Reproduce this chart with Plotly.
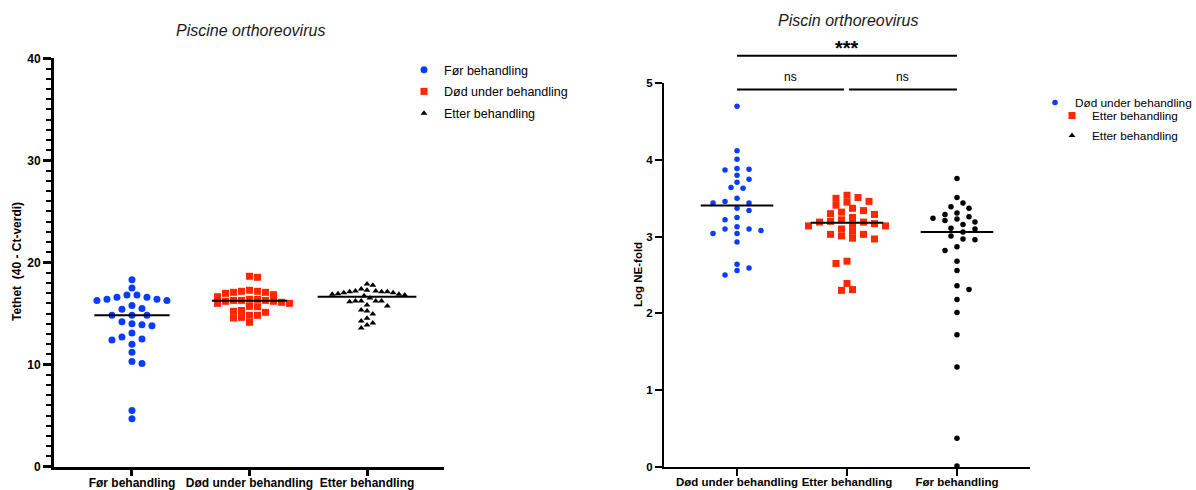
import numpy as np
import plotly.graph_objects as go

W, H = 1196, 490
FONT = "Liberation Sans, Arial, sans-serif"
BLUE = "#0a3cff"
RED = "#ff2600"
BLACK = "#000000"

# ---- Left panel: Tethet (40 - Ct-verdi) ----
left_categories = ["Før behandling", "Død under behandling", "Etter behandling"]
left_for = [18.32, 17.50, 16.82, 16.82, 16.39, 16.29, 16.29, 16.59, 16.59, 16.39,
            15.80, 15.50, 15.41, 14.83, 14.83, 14.83, 14.20, 14.00, 13.90, 13.80,
            13.10, 12.70, 12.50, 12.40, 12.00, 11.20, 10.30, 10.10, 5.50, 4.70]
left_dod = [18.65, 18.55, 17.18, 17.18, 17.08, 17.08, 16.40, 15.70, 16.85, 16.20,
            15.12, 17.28, 16.29, 16.29, 16.65, 16.00, 16.98, 16.20, 16.29, 14.83,
            16.10, 15.22, 14.14, 16.39, 15.67, 14.83, 16.00, 15.30, 14.56, 14.63]
left_etter = [17.14, 17.14, 16.82, 16.88, 17.40, 17.04, 17.04, 17.77, 16.88, 16.94,
              17.27, 17.89, 17.20, 17.20, 17.14, 16.75, 16.16, 16.22, 16.22, 16.22,
              16.52, 16.22, 15.74, 15.84, 15.35, 15.25, 14.96, 14.54, 14.27, 14.07,
              13.88, 13.58]

# ---- Right panel: Log NE-fold ----
right_categories = ["Død under behandling", "Etter behandling", "Før behandling"]
right_dod = [4.70, 4.12, 4.01, 3.88, 3.89, 3.87, 3.80, 3.75, 3.71, 3.63,
             3.64, 3.50, 3.46, 3.44, 3.44, 3.37, 3.34, 3.25, 3.22, 3.10,
             3.10, 3.13, 3.08, 3.04, 3.04, 2.93, 2.59, 2.64, 2.56, 2.50]
right_etter = [3.17, 3.46, 3.37, 3.19, 3.10, 3.01, 3.51, 3.41, 3.32, 3.19,
               3.07, 2.97, 3.50, 3.29, 3.20, 2.98, 3.54, 3.45, 3.34, 3.25,
               3.14, 3.03, 3.30, 3.22, 3.14, 3.03, 3.16, 2.65, 2.68, 2.39,
               2.31, 2.30]
right_for = [3.76, 3.51, 3.44, 3.37, 3.39, 3.31, 3.29, 3.23, 3.24, 3.19,
             3.26, 3.21, 3.16, 3.10, 3.11, 3.06, 3.01, 2.97, 2.96, 2.82,
             2.87, 2.68, 2.56, 2.36, 2.31, 2.18, 2.01, 1.72, 1.30, 0.37, 0.01]

# Significance comparisons on the right panel: (from, to, level, label)
sig_pairs = [(0, 2, 5.36, "***"), (0, 0.973, 4.92, "ns"), (1.018, 2, 4.92, "ns")]

# Plot-area geometry (pixels)
L_X0, L_X1, L_YB, L_YT = 53.8, 444.0, 466.7, 58.3
R_X0, R_X1, R_YB, R_YT = 664.0, 1030.0, 466.7, 83.3
L_XR, L_YR = [-0.665, 2.655], [0, 40]
R_XR, R_YR = [-0.664, 2.664], [0, 5]

l_xpx = (L_X1 - L_X0) / (L_XR[1] - L_XR[0])
l_ypx = (L_YB - L_YT) / (L_YR[1] - L_YR[0])
r_xpx = (R_X1 - R_X0) / (R_XR[1] - R_XR[0])
r_ypx = (R_YB - R_YT) / (R_YR[1] - R_YR[0])


def r_paper_x(v):
    return (R_X0 + (v - R_XR[0]) * r_xpx) / W


def r_paper_y(v):
    return 1 - (R_YB - (v - R_YR[0]) * r_ypx) / H


def swarm(values, ypx, xpx, sx, sy):
    """Beeswarm offsets (in category units) on a half-step lattice."""
    vals = np.asarray(values, dtype=float)
    order = np.argsort(-vals, kind="stable")
    placed = []
    offs = np.zeros(len(vals))
    flip = 1
    for i in order:
        yp = vals[i] * ypx
        chosen = None
        for step in range(0, 60):
            cands = [0] if step == 0 else [flip * step, -flip * step]
            for c in cands:
                xp = c * sx / 2.0
                if all(((xp - px) / sx) ** 2 + ((yp - py) / sy) ** 2 >= 0.999
                       for px, py in placed):
                    chosen = xp
                    break
            if chosen is not None:
                break
        if chosen != 0:
            flip = -flip
        placed.append((chosen, yp))
        offs[i] = chosen
    return offs / xpx


fig = go.Figure()


def add_group(values, pos, xpx, ypx, sx, sy, color, symbol, size, name,
              xa, ya, legend, showlegend=True, half=0.32):
    offs = swarm(values, ypx, xpx, sx, sy)
    fig.add_trace(go.Scatter(
        x=pos + offs, y=values, mode="markers", name=name, legendgroup=name,
        marker=dict(color=color, symbol=symbol, size=size, line=dict(width=0)),
        xaxis=xa, yaxis=ya, cliponaxis=False, showlegend=showlegend,
        legend=legend, hoverinfo="y"))
    med = float(np.median(values))
    fig.add_trace(go.Scatter(
        x=[pos - half, pos + half], y=[med, med], mode="lines",
        line=dict(color=BLACK, width=2), xaxis=xa, yaxis=ya,
        showlegend=False, hoverinfo="skip"))


# Left panel groups
add_group(left_for, 0, l_xpx, l_ypx, 10, 7.5, BLUE, "circle", 7,
          left_categories[0], "x", "y", "legend")
add_group(left_dod, 1, l_xpx, l_ypx, 8, 6.5, RED, "square", 7,
          left_categories[1], "x", "y", "legend")
add_group(left_etter, 2, l_xpx, l_ypx, 5.8, 6, BLACK, "triangle-up", 6,
          left_categories[2], "x", "y", "legend", half=0.42)

# Right panel groups
add_group(right_dod, 0, r_xpx, r_ypx, 12, 6, BLUE, "circle", 5.5,
          right_categories[0], "x2", "y2", "legend2", half=0.33)
add_group(right_etter, 1, r_xpx, r_ypx, 11, 6.6, RED, "square", 7,
          right_categories[1], "x2", "y2", "legend3", half=0.33)
add_group(right_for, 2, r_xpx, r_ypx, 12, 6, BLACK, "circle", 5.5,
          right_categories[2], "x2", "y2", "legend3", showlegend=False, half=0.33)
# legend-only entry
fig.add_trace(go.Scatter(
    x=[None], y=[None], mode="markers", name="Etter behandling",
    legendgroup="etter_tri",
    marker=dict(color=BLACK, symbol="triangle-up", size=6),
    xaxis="x2", yaxis="y2", legend="legend3"))

bold = dict(family=FONT, size=12, color=BLACK, weight="bold")

axis_common = dict(showline=True, linecolor=BLACK, ticks="outside",
                   tickcolor=BLACK, showgrid=False, zeroline=False,
                   fixedrange=True, automargin=False)

fig.update_layout(
    width=W, height=H, margin=dict(l=0, r=0, t=0, b=0, autoexpand=False),
    paper_bgcolor="white", plot_bgcolor="white",
    font=dict(family=FONT, color=BLACK),
    xaxis=dict(domain=[L_X0 / W, L_X1 / W], range=L_XR, anchor="y",
               tickvals=[0, 1, 2], ticktext=left_categories,
               linewidth=2.5, tickwidth=2.5, ticklen=7, tickfont=bold,
               ticklabelstandoff=-4, **axis_common),
    yaxis=dict(domain=[1 - L_YB / H, 1 - L_YT / H], range=L_YR, anchor="x",
               tickmode="linear", tick0=0, dtick=10, linewidth=2.5,
               tickwidth=2.5, ticklen=8, tickfont=bold,
               minor=dict(tickmode="linear", tick0=0, dtick=1,
                          ticks="outside", ticklen=5, tickwidth=2,
                          tickcolor=BLACK, showgrid=False),
               **axis_common),
    xaxis2=dict(domain=[R_X0 / W, R_X1 / W], range=R_XR, anchor="y2",
                tickvals=[0, 1, 2], ticktext=right_categories,
                linewidth=2, tickwidth=2, ticklen=7, ticklabelstandoff=-4,
                tickfont=dict(bold, size=11.5), **axis_common),
    yaxis2=dict(domain=[1 - R_YB / H, 1 - R_YT / H], range=R_YR, anchor="x2",
                tickmode="linear", tick0=0, dtick=1, linewidth=2, tickwidth=2,
                ticklen=7, tickfont=dict(bold, size=11.5), **axis_common),
    legend=dict(x=404 / W, y=1 - 55 / H, xanchor="left", yanchor="top",
                font=dict(family=FONT, size=12.5, color=BLACK),
                traceorder="grouped", tracegroupgap=2.5,
                bgcolor="rgba(0,0,0,0)", itemclick=False),
    legend2=dict(x=1035 / W, y=1 - 88 / H, xanchor="left", yanchor="top",
                 font=dict(family=FONT, size=11.8, color=BLACK),
                 bgcolor="rgba(0,0,0,0)", itemclick=False),
    legend3=dict(x=1052 / W, y=1 - 101 / H, xanchor="left", yanchor="top",
                 font=dict(family=FONT, size=11.8, color=BLACK),
                 traceorder="grouped", tracegroupgap=1,
                 bgcolor="rgba(0,0,0,0)", itemclick=False),
)

title_font = dict(family=FONT, size=16, color="#1a1a1a", style="italic")
annotations = [
    dict(text="Piscine orthoreovirus", x=250 / W, y=1 - 31 / H,
         xref="paper", yref="paper", showarrow=False, font=title_font,
         xanchor="center", yanchor="middle"),
    dict(text="Piscin orthoreovirus", x=848 / W, y=1 - 20 / H,
         xref="paper", yref="paper", showarrow=False, font=title_font,
         xanchor="center", yanchor="middle"),
    dict(text="Tethet\u00a0 (40 - Ct-verdi)", x=17 / W, y=1 - 262 / H,
         xref="paper", yref="paper", showarrow=False, textangle=-90,
         font=dict(bold, size=12), xanchor="center", yanchor="middle"),
    dict(text="Log NE-fold", x=638 / W, y=1 - 275 / H,
         xref="paper", yref="paper", showarrow=False, textangle=-90,
         font=dict(bold, size=11.5), xanchor="center", yanchor="middle"),
]

# Significance bars with their labels
for x0, x1, yv, label in sig_pairs:
    fig.add_shape(type="line", xref="paper", yref="paper",
                  x0=r_paper_x(x0), x1=r_paper_x(x1),
                  y0=r_paper_y(yv), y1=r_paper_y(yv),
                  line=dict(color=BLACK, width=2))
    if label == "***":
        font = dict(bold, size=20)
        lift = -5
    else:
        font = dict(family=FONT, size=12, color=BLACK)
        lift = 3
    annotations.append(dict(
        text=label, x=r_paper_x((x0 + x1) / 2), y=r_paper_y(yv) + lift / H,
        xref="paper", yref="paper", showarrow=False, font=font,
        xanchor="center", yanchor="bottom"))

fig.update_layout(annotations=annotations)
fig.write_html("out.html")
